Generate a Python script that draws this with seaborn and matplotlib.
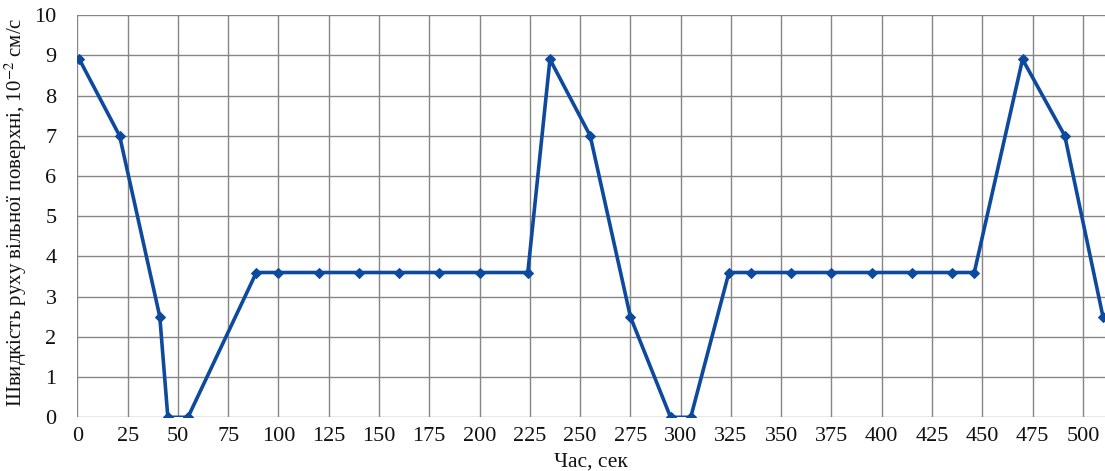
import matplotlib
matplotlib.use("Agg")
import matplotlib.pyplot as plt
import seaborn as sns
import pandas as pd

time_s = [1, 21, 41, 45, 55, 89, 100, 120, 140, 160, 180, 200, 224,
          235, 255, 275, 295, 305, 324, 335, 355, 375, 395, 415, 435, 446,
          470, 491, 510]
speed = [8.9, 7.0, 2.5, 0.0, 0.0, 3.6, 3.6, 3.6, 3.6, 3.6, 3.6, 3.6, 3.6,
         8.9, 7.0, 2.5, 0.0, 0.0, 3.6, 3.6, 3.6, 3.6, 3.6, 3.6, 3.6, 3.6,
         8.9, 7.0, 2.5]
x_ticks = list(range(0, 501, 25))
y_ticks = list(range(0, 11))

sns.set_style("whitegrid")
plt.rcParams['font.family'] = ['Liberation Serif', 'DejaVu Serif']
plt.rcParams['mathtext.fontset'] = 'stix'

df = pd.DataFrame({"t": time_s, "v": speed})

fig = plt.figure(figsize=(11.05, 4.71), dpi=100)
ax = fig.add_axes([0.07, 0.114, 0.93, 0.854])

sns.lineplot(data=df, x="t", y="v", ax=ax, color="#0d4a9e", linewidth=2.6,
             marker="D", markersize=5, markeredgecolor="#0d4a9e", zorder=3)

ax.set_xlim(0, 511)
ax.set_ylim(0, 10)
ax.set_xticks(x_ticks)
ax.set_yticks(y_ticks)
ax.grid(True, color="#858585", linewidth=1.0)
for s in ax.spines.values():
    s.set_visible(False)
ax.tick_params(axis="x", length=0, pad=7, labelsize=16, labelcolor="#111111")
ax.tick_params(axis="y", length=0, pad=15, labelsize=16, labelcolor="#111111")

ax.set_xlabel("Час, сек", fontsize=15.5, labelpad=5, color="#111111")
ax.set_ylabel("Швидкість руху вільної поверхні, 10$^{-2}$ см/с", fontsize=15,
              color="#111111")
ax.yaxis.set_label_coords(-0.047, 0.51)

fig.savefig("out.png", dpi=100)
